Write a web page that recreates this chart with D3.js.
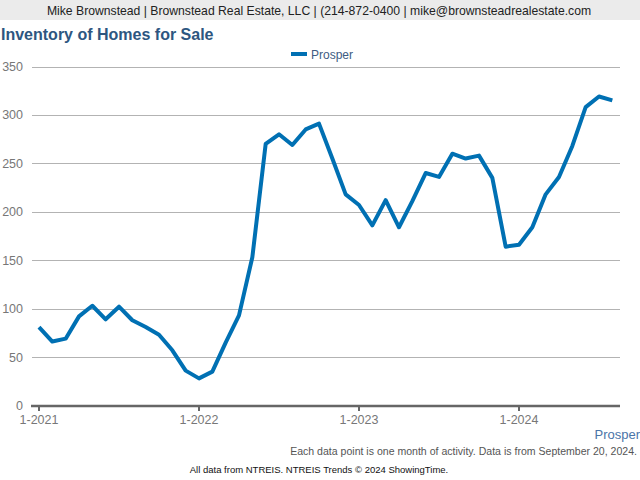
<!DOCTYPE html>
<html><head><meta charset="utf-8">
<script src="https://cdn.jsdelivr.net/npm/d3@7"></script>
<style>body{margin:0;background:#fff;font-family:"Liberation Sans",Arial,sans-serif}</style>
</head><body><svg id="c" width="640" height="480"></svg>
<script>
const seriesName = "Prosper";
const startYear = 2021;
const values = [81,66,69,92,103,89,102,88,81,73,57,36,28,35,65,93,153,270,280,269,285,291,255,218,207,186,212,184,211,240,236,260,255,258,235,164,166,184,218,236,268,308,319,315];
const yTicks = [0,50,100,150,200,250,300,350];
const xTickLabels = ["1-2021","1-2022","1-2023","1-2024"];

const svg = d3.select("#c");
svg.append("rect").attr("x",0).attr("y",0).attr("width",640).attr("height",20).attr("fill","#ebebeb");
svg.append("text").attr("x",319).attr("y",15).attr("text-anchor","middle").attr("font-size",12.2).attr("fill","#222")
  .text("Mike Brownstead | Brownstead Real Estate, LLC | (214-872-0400 | mike@brownsteadrealestate.com");
svg.append("text").attr("x",1).attr("y",40).attr("font-size",16).attr("font-weight","bold").attr("fill","#2d5680")
  .text("Inventory of Homes for Sale");

const x = d3.scaleLinear().domain([0,43]).range([39, 39+43*160/12]);
const y = d3.scaleLinear().domain([0,350]).range([405.5,66.5]);

// gridlines
svg.append("g").selectAll("line").data(yTicks.filter(d=>d>0)).join("line")
  .attr("x1",32).attr("x2",620).attr("y1",d=>Math.round(y(d))+0.5).attr("y2",d=>Math.round(y(d))+0.5)
  .attr("stroke","#b3b3b3").attr("stroke-width",1);
// y labels
svg.append("g").selectAll("text").data(yTicks).join("text")
  .attr("x",23).attr("y",d=>y(d)+4.5).attr("text-anchor","end").attr("font-size",12.5).attr("fill","#777")
  .text(d=>d);
// x axis
svg.append("line").attr("x1",31).attr("x2",620).attr("y1",406).attr("y2",406).attr("stroke","#666").attr("stroke-width",2.5);
svg.append("g").selectAll("line").data(xTickLabels).join("line")
  .attr("x1",(d,i)=>x(i*12)).attr("x2",(d,i)=>x(i*12)).attr("y1",406).attr("y2",411)
  .attr("stroke","#666").attr("stroke-width",2);
svg.append("g").selectAll("text").data(xTickLabels).join("text")
  .attr("x",(d,i)=>x(i*12)).attr("y",424).attr("text-anchor","middle").attr("font-size",12.5).attr("fill","#777")
  .text(d=>d);

// line
svg.append("path").datum(values)
  .attr("d", d3.line().x((d,i)=>x(i)).y(d=>y(d)))
  .attr("fill","none").attr("stroke","#0070b3").attr("stroke-width",4).attr("stroke-linejoin","round");

// legend
svg.append("line").attr("x1",291).attr("x2",307).attr("y1",54).attr("y2",54).attr("stroke","#0070b3").attr("stroke-width",4);
svg.append("text").attr("x",311).attr("y",58.5).attr("font-size",12).attr("fill","#3e5c82").text(seriesName);

svg.append("text").attr("x",640).attr("y",439).attr("text-anchor","end").attr("font-size",13).attr("fill","#4a74a8").text(seriesName);
svg.append("text").attr("x",637).attr("y",455).attr("text-anchor","end").attr("font-size",10.55).attr("fill","#555")
  .text("Each data point is one month of activity. Data is from September 20, 2024.");
svg.append("text").attr("x",319).attr("y",473).attr("text-anchor","middle").attr("font-size",9.5).attr("fill","#111")
  .text("All data from NTREIS. NTREIS Trends © 2024 ShowingTime.");
</script></body></html>
